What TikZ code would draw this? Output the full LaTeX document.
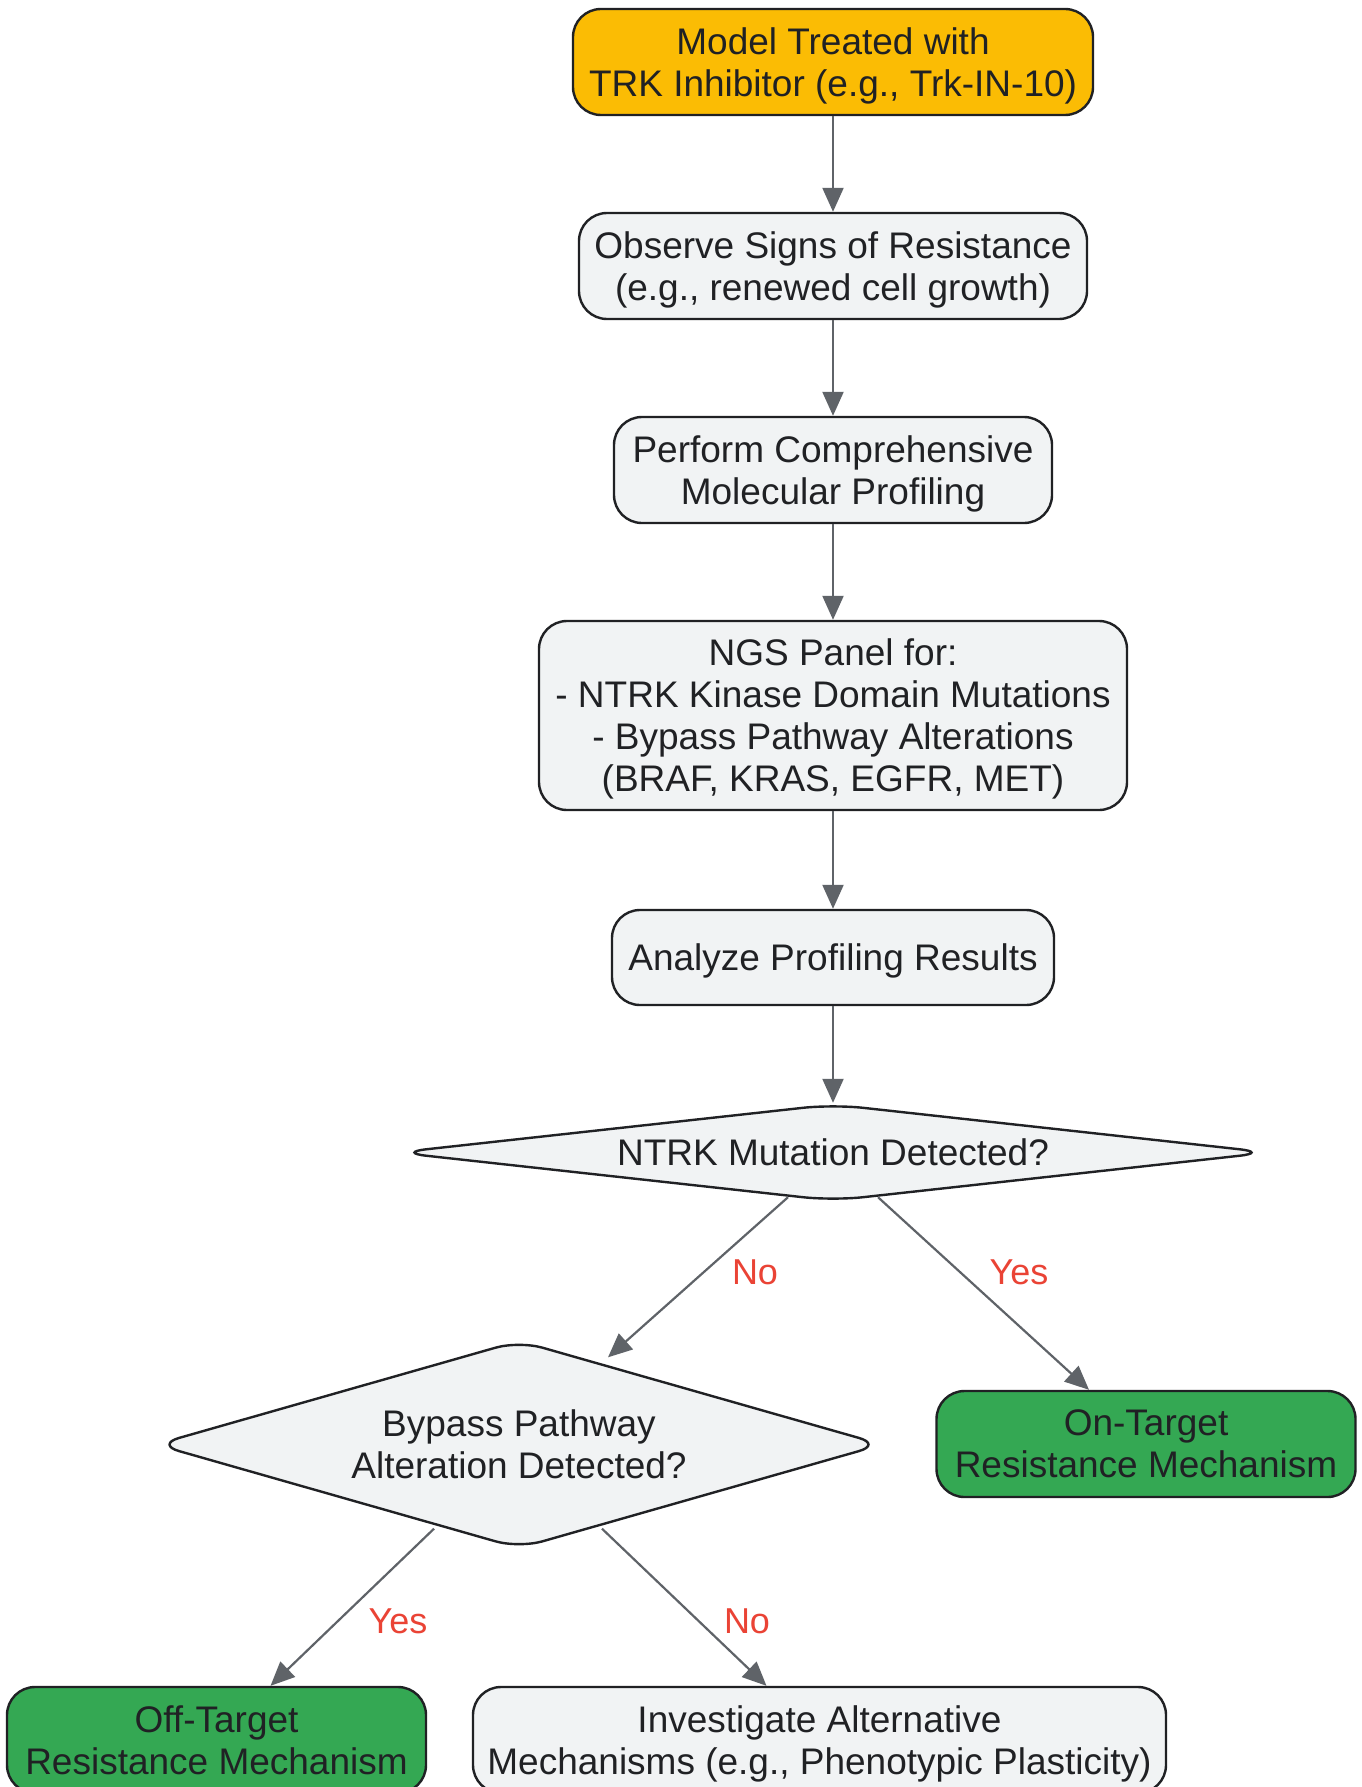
\documentclass[tikz,border=0pt]{standalone}
\usepackage{fontspec}
\setmainfont{Liberation Sans}
\usetikzlibrary{shapes.geometric,arrows.meta,calc}
\definecolor{edgegray}{HTML}{5F6368}
\definecolor{bordercol}{HTML}{202124}
\definecolor{boxgray}{HTML}{F1F3F4}
\definecolor{yellowfill}{HTML}{FBBC04}
\definecolor{greenfill}{HTML}{34A853}
\definecolor{labelred}{HTML}{EA4335}
\definecolor{textdark}{HTML}{202124}
\newcommand\lastln[1]{\raisebox{0pt}[\height][-4pt]{#1}}
\tikzset{
  basebox/.style={rectangle, rounded corners=28pt, draw=bordercol, line width=2.4pt,
    fill=boxgray, inner sep=0pt, align=center, text=textdark,
    font=\fontsize{37}{42}\selectfont},
  yellowbox/.style={basebox, fill=yellowfill},
  greenbox/.style={basebox, fill=greenfill},
  decision/.style={diamond, draw=bordercol, line width=2.4pt, fill=boxgray,
    inner sep=0pt, align=center, text=textdark, font=\fontsize{37}{42}\selectfont},
  arr/.style={draw=edgegray, line width=2.2pt, -{Triangle[length=24pt,width=21pt]}},
  elabel/.style={text=labelred, font=\fontsize{36}{42}\selectfont, inner sep=0pt}
}
\begin{document}
\begin{tikzpicture}[x=1pt,y=-1pt]
\useasboundingbox (0,0) rectangle (1361,1787);
\clip (0,0) rectangle (1361,1787);
\fill[white] (0,0) rectangle (1361,1787);

\node[yellowbox, minimum width=520pt, minimum height=106pt] (n1) at (833,62)
  {Model Treated with\\\lastln{TRK Inhibitor (e.g., Trk-IN-10)}};
\node[basebox, minimum width=508pt, minimum height=106pt] (n2) at (833,266)
  {Observe Signs of Resistance\\\lastln{(e.g., renewed cell growth)}};
\node[basebox, minimum width=438pt, minimum height=106pt] (n3) at (833,470)
  {Perform Comprehensive\\\lastln{Molecular Profiling}};
\node[basebox, minimum width=588pt, minimum height=189pt] (n4) at (833,715.5)
  {NGS Panel for:\\- NTRK Kinase Domain Mutations\\- Bypass Pathway Alterations\\\lastln{(BRAF, KRAS, EGFR, MET)}};
\node[basebox, minimum width=442pt, minimum height=95pt] (n5) at (833,957.5)
  {\lastln{Analyze Profiling Results}};
\node[decision, aspect=9, rounded corners=30pt, minimum width=873pt, minimum height=97pt] (d1) at (833,1152.5)
  {\lastln{NTRK Mutation Detected?}};
\node[decision, aspect=3.46, rounded corners=24pt, minimum width=727pt, minimum height=208pt] (d2) at (519,1444.5)
  {Bypass Pathway\\\lastln{Alteration Detected?}};
\node[greenbox, minimum width=419pt, minimum height=106pt] (on) at (1146,1444)
  {On-Target\\\lastln{Resistance Mechanism}};
\node[greenbox, minimum width=419pt, minimum height=106pt] (off) at (216.5,1740)
  {Off-Target\\\lastln{Resistance Mechanism}};
\node[basebox, minimum width=693pt, minimum height=106pt] (inv) at (819.5,1740)
  {Investigate Alternative\\\lastln{Mechanisms (e.g., Phenotypic Plasticity)}};

\draw[arr] (n1) -- (n2);
\draw[arr] (n2) -- (n3);
\draw[arr] (n3) -- (n4);
\draw[arr] (n4) -- (n5);
\draw[arr] (n5) -- (d1);
\draw[arr] ($(d1.south)+(-45,-5)$) -- ($(d2.north)+(89,18)$);
\draw[arr] ($(d1.south)+(45,-5)$) -- ($(on.north)+(-57,0)$);
\draw[arr] ($(d2.south)+(-85,-21)$) -- ($(off.north)+(54,0)$);
\draw[arr] ($(d2.south)+(83,-21)$) -- ($(inv.north)+(-53,0)$);

\node[elabel] (l1) at (755,1272) {No};
\node[elabel] (l2) at (1019,1272) {Yes};
\node[elabel] (l3) at (398,1621) {Yes};
\node[elabel] (l4) at (747,1621) {No};
\end{tikzpicture}
\end{document}
